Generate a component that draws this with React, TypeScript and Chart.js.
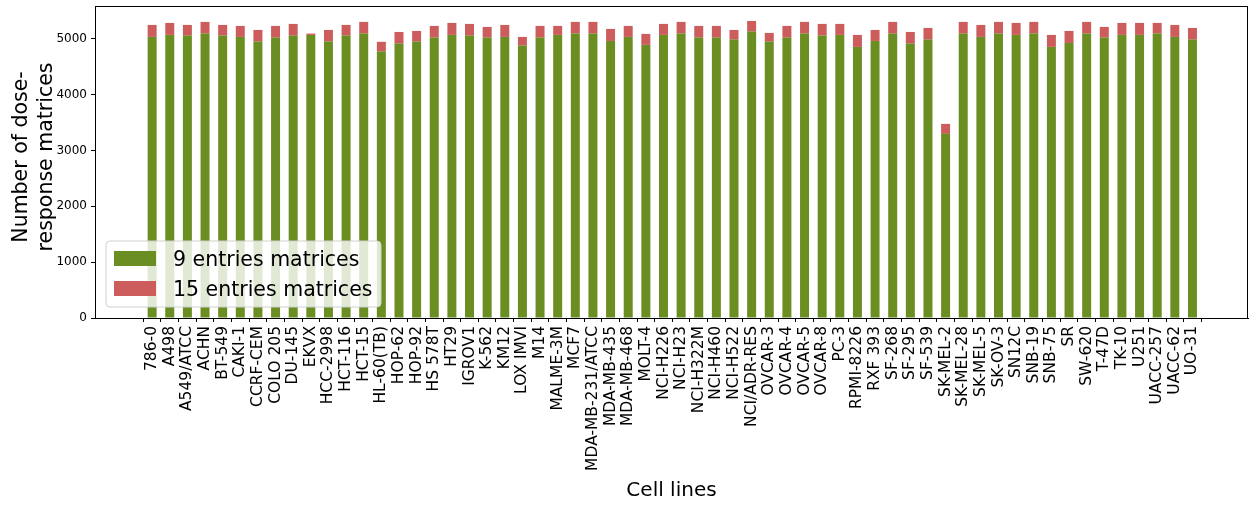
import React, { useEffect, useRef } from "react";
import { Chart, registerables } from "chart.js";

Chart.register(...registerables);

const cellLines: string[] = [
  "786-0", "A498", "A549/ATCC", "ACHN", "BT-549", "CAKI-1", "CCRF-CEM", "COLO 205", "DU-145", "EKVX",
  "HCC-2998", "HCT-116", "HCT-15", "HL-60(TB)", "HOP-62", "HOP-92", "HS 578T", "HT29", "IGROV1", "K-562",
  "KM12", "LOX IMVI", "M14", "MALME-3M", "MCF7", "MDA-MB-231/ATCC", "MDA-MB-435", "MDA-MB-468", "MOLT-4", "NCI-H226",
  "NCI-H23", "NCI-H322M", "NCI-H460", "NCI-H522", "NCI/ADR-RES", "OVCAR-3", "OVCAR-4", "OVCAR-5", "OVCAR-8", "PC-3",
  "RPMI-8226", "RXF 393", "SF-268", "SF-295", "SF-539", "SK-MEL-2", "SK-MEL-28", "SK-MEL-5", "SK-OV-3", "SN12C",
  "SNB-19", "SNB-75", "SR", "SW-620", "T-47D", "TK-10", "U251", "UACC-257", "UACC-62", "UO-31",
];

const entries9: number[] = [
  5036, 5072, 5060, 5096, 5060, 5036, 4952, 5024, 5060, 5072,
  4952, 5060, 5096, 4773, 4916, 4952, 5024, 5072, 5060, 5024,
  5036, 4881, 5024, 5072, 5096, 5096, 4964, 5036, 4893, 5072,
  5096, 5024, 5024, 4988, 5131, 4952, 5024, 5096, 5060, 5072,
  4857, 4964, 5096, 4916, 4988, 3299, 5096, 5036, 5096, 5072,
  5096, 4857, 4928, 5096, 5024, 5072, 5072, 5096, 5036, 4988,
];

const entries15: number[] = [
  215, 215, 191, 209, 191, 197, 209, 209, 209, 24,
  209, 191, 209, 175, 209, 191, 209, 215, 209, 191,
  215, 155, 209, 161, 209, 209, 215, 197, 197, 197,
  209, 209, 209, 173, 191, 156, 209, 209, 209, 197,
  215, 197, 209, 209, 209, 179, 209, 215, 209, 215,
  209, 215, 215, 209, 191, 215, 215, 191, 215, 209,
];

const yTicks: number[] = [0, 1000, 2000, 3000, 4000, 5000];
const seriesNames: string[] = ["9 entries matrices", "15 entries matrices"];
const seriesColors: string[] = ["#6b8e23", "#cd5c5c"];

const FONT = "'DejaVu Sans', sans-serif";

export default function App() {
  const ref = useRef<HTMLCanvasElement | null>(null);

  useEffect(() => {
    document.body.style.margin = "0";
    const canvas = ref.current;
    if (!canvas) return;

    const xMin = -3.24;
    const xMax = cellLines.length - 1 + 3.15;

    const overlay = {
      id: "overlay",
      afterDraw(chart: any) {
        const { ctx, chartArea } = chart;
        ctx.save();
        ctx.strokeStyle = "#000";
        ctx.lineWidth = 1;
        ctx.strokeRect(chartArea.left + 0.5, chartArea.top + 0.5, chartArea.right - chartArea.left - 1, chartArea.bottom - chartArea.top);

        const lx = 106, ly = 241, lw = 275, lh = 66, r = 4;
        ctx.beginPath();
        ctx.moveTo(lx + r, ly);
        ctx.lineTo(lx + lw - r, ly);
        ctx.quadraticCurveTo(lx + lw, ly, lx + lw, ly + r);
        ctx.lineTo(lx + lw, ly + lh - r);
        ctx.quadraticCurveTo(lx + lw, ly + lh, lx + lw - r, ly + lh);
        ctx.lineTo(lx + r, ly + lh);
        ctx.quadraticCurveTo(lx, ly + lh, lx, ly + lh - r);
        ctx.lineTo(lx, ly + r);
        ctx.quadraticCurveTo(lx, ly, lx + r, ly);
        ctx.closePath();
        ctx.fillStyle = "rgba(255,255,255,0.8)";
        ctx.fill();
        ctx.strokeStyle = "#d0d0d0";
        ctx.stroke();
        ctx.font = `20.5px ${FONT}`;
        ctx.textAlign = "left";
        ctx.textBaseline = "alphabetic";
        seriesNames.forEach((name, i) => {
          const py = 251 + i * 30;
          ctx.fillStyle = seriesColors[i];
          ctx.fillRect(114, py, 42, 15);
          ctx.fillStyle = "#000";
          ctx.fillText(name, 173, py + 15);
        });

        ctx.font = `20.5px ${FONT}`;
        ctx.translate(0, 157);
        ctx.rotate(-Math.PI / 2);
        ctx.textAlign = "center";
        ctx.fillStyle = "#000";
        ctx.fillText("Number of dose-", 0, 27);
        ctx.fillText("response matrices", 0, 52);
        ctx.restore();
      },
    };

    const chart = new Chart(canvas, {
      type: "bar",
      data: {
        datasets: seriesNames.map((name, s) => ({
          label: name,
          data: (s === 0 ? entries9 : entries15).map((v, i) => ({ x: i, y: v })),
          backgroundColor: seriesColors[s],
          borderWidth: 0,
          barPercentage: 0.51,
          categoryPercentage: 1,
        })),
      },
      options: {
        animation: false,
        responsive: false,
        maintainAspectRatio: false,
        layout: { padding: { top: 6, right: 1, left: 0, bottom: 0 } },
        plugins: { legend: { display: false }, tooltip: { enabled: false } },
        scales: {
          x: {
            type: "linear",
            stacked: true,
            offset: false,
            min: xMin,
            max: xMax,
            afterBuildTicks: (scale: any) => {
              scale.ticks = cellLines.map((_, i) => ({ value: i }));
            },
            afterFit: (scale: any) => {
              scale.height = 189;
              scale.paddingLeft = 0;
              scale.paddingRight = 0;
            },
            ticks: {
              autoSkip: false,
              maxRotation: 90,
              minRotation: 90,
              padding: 4,
              color: "#000",
              font: { family: FONT, size: 15.5 },
              callback: (v: any) => cellLines[Math.round(Number(v))] ?? "",
            },
            grid: { drawOnChartArea: false, tickLength: 4, color: "#000" },
            border: { display: true, color: "#000" },
            title: {
              display: true,
              text: "Cell lines",
              color: "#000",
              font: { family: FONT, size: 20 },
              padding: { top: 0, bottom: 4 },
            },
          },
          y: {
            stacked: true,
            min: 0,
            max: 5590,
            afterBuildTicks: (scale: any) => {
              scale.ticks = yTicks.map((v) => ({ value: v }));
            },
            afterFit: (scale: any) => {
              scale.width = 95;
              scale.paddingTop = 0;
              scale.paddingBottom = 0;
            },
            ticks: {
              color: "#000",
              padding: 4,
              font: { family: FONT, size: 12 },
              callback: (v: any) => String(v),
            },
            grid: { drawOnChartArea: false, tickLength: 4, color: "#000" },
            border: { display: true, color: "#000" },
          },
        },
      },
      plugins: [overlay],
    } as any);

    return () => chart.destroy();
  }, []);

  return <canvas ref={ref} width={1249} height={507} style={{ display: "block" }} />;
}
